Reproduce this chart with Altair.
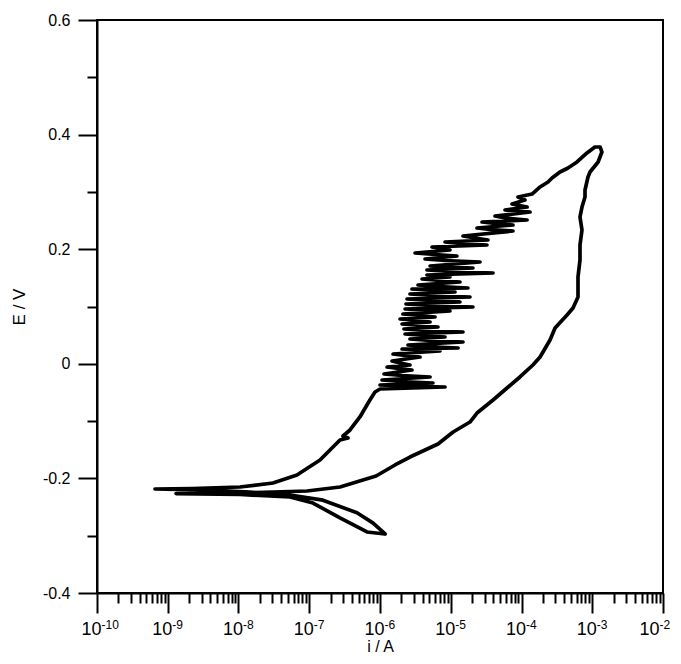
import altair as alt
import pandas as pd

# Cyclic polarization scan, in recorded order: current i (A) and potential E (V)
# forward scan: cathodic branch, corrosion potential, start of the anodic branch
fwd_i = [1.18e-6, 8.0e-7, 4.73e-7, 1.56e-7, 5.35e-8, 1.45e-8, 2.86e-9, 6.6e-10,
         2.2e-9, 1.05e-8, 3.07e-8, 6.7e-8, 1.42e-7, 2.72e-7, 3.53e-7, 3.0e-7,
         3.77e-7, 5.2e-7, 7.2e-7, 8.5e-7, 1.0e-6]
fwd_E = [-0.297, -0.278, -0.260, -0.238, -0.229, -0.224, -0.220, -0.2185,
         -0.2176, -0.215, -0.208, -0.194, -0.168, -0.133, -0.1295, -0.126,
         -0.1155, -0.0928, -0.0632, -0.0492, -0.044]
# noisy (metastable pitting) part of the anodic branch
noise_i = [8.3e-6, 2.26e-6, 1.0e-6, 5.6e-6, 1.92e-6, 1.07e-6, 5.1e-6, 2.05e-6, 1.14e-6,
           2.83e-6, 1.80e-6, 1.26e-6, 2.65e-6, 1.92e-6, 1.48e-6, 3.68e-6, 2.26e-6, 1.53e-6,
           7.05e-6, 3.12e-6, 2.05e-6, 1.27e-5, 4.33e-6, 2.49e-6, 1.49e-5, 5.1e-6, 2.65e-6,
           8.3e-6, 4.33e-6, 2.26e-6, 1.49e-5, 4.33e-6, 2.18e-6, 6.6e-6, 3.68e-6, 2.05e-6,
           5.1e-6, 3.44e-6, 1.92e-6, 6.0e-6, 3.68e-6, 2.11e-6, 9.75e-6, 4.33e-6, 2.26e-6,
           2.06e-5, 5.1e-6, 2.33e-6, 1.35e-5, 5.1e-6, 2.41e-6, 1.87e-5, 5.43e-6, 2.65e-6,
           1.15e-5, 5.43e-6, 2.83e-6, 1.75e-5, 7.05e-6, 3.44e-6, 1.35e-5, 7.05e-6, 3.93e-6,
           9.75e-6, 7.05e-6, 4.61e-6, 3.96e-5, 9.75e-6, 4.61e-6, 2.06e-5, 9.15e-6, 5.1e-6,
           2.59e-5, 8.3e-6, 4.33e-6, 1.22e-5, 6.0e-6, 3.13e-6, 9.75e-6, 7.05e-6, 5.43e-6,
           3.25e-5, 1.35e-5, 8.3e-6, 3.36e-5, 2.2e-5, 1.49e-5, 7.58e-5, 3.59e-5, 2.35e-5,
           7.58e-5, 4.22e-5, 2.77e-5, 1.2e-4, 5.85e-5, 4.22e-5,
           1.32e-4, 5.85e-5, 1.2e-4, 7.34e-5, 1.12e-4, 8.93e-5, 1.41e-4]
noise_E = [-0.0405, -0.0387, -0.037, -0.0335, -0.0309, -0.0283, -0.023, -0.0204, -0.0178,
           -0.0108, -0.0082, -0.0056, -0.0021, 0.0014, 0.0049, 0.0119, 0.0145, 0.0171,
           0.0223, 0.0241, 0.0258, 0.0276, 0.0302, 0.0328, 0.038, 0.0407, 0.0433,
           0.0468, 0.0494, 0.052, 0.0555, 0.0581, 0.0607, 0.0642, 0.0668, 0.0695,
           0.073, 0.0756, 0.0782, 0.0817, 0.0843, 0.0869, 0.0921, 0.0939, 0.0956,
           0.0991, 0.1017, 0.1044, 0.1079, 0.1105, 0.1131, 0.1166, 0.1192, 0.1218,
           0.1253, 0.1279, 0.1305, 0.1323, 0.1349, 0.1375, 0.1428, 0.1454, 0.148,
           0.1515, 0.1532, 0.155, 0.1585, 0.1611, 0.1637, 0.1672, 0.1689, 0.1707,
           0.1777, 0.1803, 0.1829, 0.1881, 0.1908, 0.1934, 0.1986, 0.2012, 0.2038,
           0.2073, 0.2099, 0.2126, 0.2161, 0.2195, 0.223, 0.2318, 0.2344, 0.237,
           0.2422, 0.2449, 0.2475, 0.251, 0.2545, 0.2579,
           0.2649, 0.2684, 0.2736, 0.2789, 0.2859, 0.2911, 0.2963]
# top of the anodic branch up to the vertex
top_i = [1.83e-4, 2.37e-4, 2.70e-4, 3.50e-4, 4.54e-4, 6.09e-4, 8.43e-4, 1.09e-3,
         1.29e-3, 1.37e-3]
top_E = [0.3086, 0.3173, 0.3243, 0.3347, 0.3417, 0.3522, 0.3679, 0.3784,
         0.3784, 0.3696]
# reverse scan back to the starting potential
rev_i = [1.21e-3, 9.3e-4, 8.71e-4, 7.9e-4, 7.9e-4, 7.16e-4, 6.71e-4, 7.16e-4,
         6.71e-4, 6.71e-4, 6.29e-4, 6.29e-4, 5.35e-4, 4.40e-4, 2.98e-4, 2.53e-4,
         1.83e-4, 1.45e-4, 9.5e-5, 6.24e-5, 3.96e-5, 2.35e-5, 1.87e-5, 1.08e-5,
         6.6e-6, 2.65e-6, 1.63e-6, 8.8e-7, 2.72e-7, 9.3e-8, 3.07e-8, 1.05e-8,
         1.31e-9, 1.05e-8, 5.35e-8, 1.13e-7, 2.72e-7, 6.55e-7, 1.18e-6]
rev_E = [0.3522, 0.3347, 0.326, 0.3033, 0.2911, 0.2736, 0.2562, 0.2335,
         0.2073, 0.1812, 0.1515, 0.1166, 0.0974, 0.0852, 0.0625, 0.0415,
         0.0119, -0.0021, -0.023, -0.0422, -0.0632, -0.0859, -0.1016, -0.119,
         -0.14, -0.1627, -0.1766, -0.1958, -0.215, -0.222, -0.2237, -0.2255,
         -0.2264, -0.2281, -0.2325, -0.243, -0.269, -0.2935, -0.297]

# Axis ticks and labels
x_major = [1e-10, 1e-9, 1e-8, 1e-7, 1e-6, 1e-5, 1e-4, 1e-3, 1e-2]
x_label_base = ["10", "10", "10", "10", "10", "10", "10", "10", "10"]
x_label_exp = ["-10", "-9", "-8", "-7", "-6", "-5", "-4", "-3", "-2"]
x_minor = [m * 10.0 ** k for k in range(-10, -2) for m in range(2, 10)]
y_major = [-0.4, -0.2, 0.0, 0.2, 0.4, 0.6]
y_labels = ["-0.4", "-0.2", "0", "0.2", "0.4", "0.6"]
y_minor = [-0.3, -0.1, 0.1, 0.3, 0.5]

cur = fwd_i + noise_i + top_i + rev_i
pot = fwd_E + noise_E + top_E + rev_E
df = pd.DataFrame({"seq": range(len(cur)), "i": cur, "E": pot})

FONT = "Liberation Sans"
xscale = alt.Scale(type="log", domain=[1e-10, 1e-2], nice=False)
yscale = alt.Scale(domain=[-0.4, 0.6], nice=False, zero=False)


def js_list(items):
    return "[" + ",".join("'" + s + "'" for s in items) + "]"


x_index = "[round(log(datum.value)/LN10)+10]"
y_index = "[round(datum.value*5)+2]"

lab = dict(grid=False, labelColor="black", labelFont=FONT,
           labelFlush=False, labelOverlap=False, labelBound=False)
common = dict(domainColor="black", domainWidth=2, tickColor="black", tickWidth=2,
              titleFont=FONT, titleColor="black", titleFontWeight="normal", **lab)

BASE_SIZE, EXP_SIZE = 18, 12

# major x ticks with the "10" part of the labels (last one drawn separately)
x_axis_major = alt.Axis(
    values=x_major, tickSize=20, labelFontSize=BASE_SIZE, labelPadding=7,
    labelExpr=js_list(x_label_base[:-1] + [""]) + x_index, labelAlign="right", labelOffset=4,
    title="i / A", titleFontSize=16, titleX=283, titleY=58,
    titleBaseline="alphabetic", titleAlign="center", orient="bottom", **common)
# exponents of the x labels, raised and smaller
x_axis_exp = alt.Axis(
    values=x_major, ticks=False, domain=False, labelFontSize=EXP_SIZE, labelPadding=26,
    labelExpr=js_list(x_label_exp[:-1] + [""]) + x_index, labelAlign="left", labelOffset=4,
    labelBaseline="top", title="", orient="bottom", **lab)
# the last label, nudged left so that it stays inside the page
x_axis_last = alt.Axis(
    values=x_major[-1:], ticks=False, domain=False, labelFontSize=BASE_SIZE, labelPadding=27,
    labelExpr="'" + x_label_base[-1] + "'", labelAlign="right", labelOffset=-4,
    labelBaseline="top", title="", orient="bottom", **lab)
x_axis_last_exp = alt.Axis(
    values=x_major[-1:], ticks=False, domain=False, labelFontSize=EXP_SIZE, labelPadding=26,
    labelExpr="'" + x_label_exp[-1] + "'", labelAlign="left", labelOffset=-4,
    labelBaseline="top", title="", orient="bottom", **lab)
y_axis_major = alt.Axis(
    values=y_major, tickSize=19, labelFontSize=16, labelPadding=8,
    labelExpr=js_list(y_labels) + y_index,
    title="E / V", titleFontSize=17, titleX=-78, titleY=286.5, titleAngle=270,
    titleBaseline="middle", titleAlign="center", orient="left", **common)
x_axis_minor = alt.Axis(values=x_minor, tickSize=10, labels=False, domain=False,
                        title="", orient="bottom", grid=False, tickColor="black", tickWidth=2)
y_axis_minor = alt.Axis(values=y_minor, tickSize=10, labels=False, domain=False,
                        title="", orient="left", grid=False, tickColor="black", tickWidth=2)


def ghost(xaxis, yaxis):
    return alt.Chart(df).mark_line(opacity=0).encode(
        x=alt.X("i:Q", scale=xscale, axis=xaxis),
        y=alt.Y("E:Q", scale=yscale, axis=yaxis),
        order="seq:Q",
    )


curve = alt.Chart(df).mark_line(color="black", strokeWidth=3.7, strokeJoin="round",
                                strokeCap="round").encode(
    x=alt.X("i:Q", scale=xscale, axis=x_axis_major),
    y=alt.Y("E:Q", scale=yscale, axis=y_axis_major),
    order="seq:Q",
)

chart = (
    alt.layer(ghost(x_axis_minor, y_axis_minor), ghost(x_axis_exp, None),
              ghost(x_axis_last, None), ghost(x_axis_last_exp, None), curve)
    .resolve_axis(x="independent", y="independent")
    .properties(width=566, height=573,
                autosize=alt.AutoSizeParams(type="none"),
                padding={"left": 89, "top": 12, "right": 10, "bottom": 63},
                background="white")
    .configure_view(stroke="black", strokeWidth=2)
)

chart.save("out.html", embed_options={"renderer": "svg", "actions": False})
